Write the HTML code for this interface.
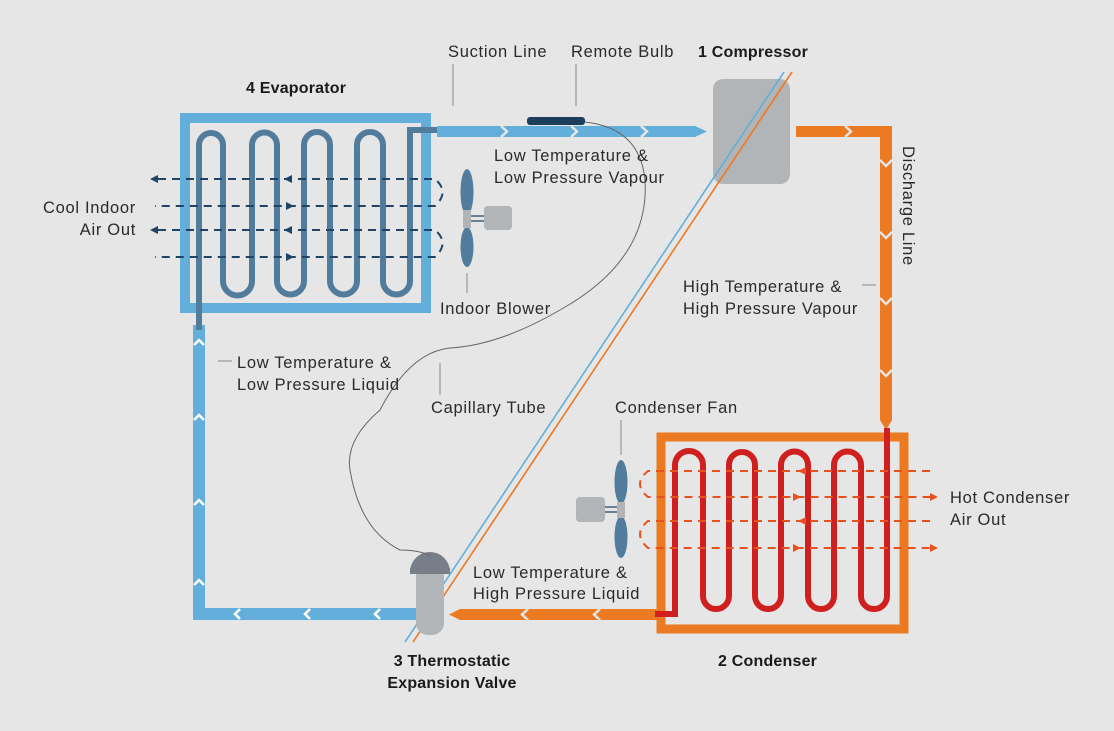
<!DOCTYPE html>
<html><head><meta charset="utf-8"><style>
html,body{margin:0;padding:0;background:#e6e6e6;}
svg{display:block;font-family:"Liberation Sans",sans-serif;}
text{font-size:16.5px;letter-spacing:0.7px;fill:#2a2a2a;}
.b{font-weight:bold;font-size:16px;letter-spacing:0.2px;fill:#1a1a1a;}
</style></head><body>
<svg width="1114" height="731" viewBox="0 0 1114 731" xmlns="http://www.w3.org/2000/svg">
<rect width="1114" height="731" fill="#e6e6e6"/>

<rect x="185" y="118" width="241" height="190" fill="none" stroke="#63aedb" stroke-width="10"/>
<path d="M199,325 L199,614 L420,614" fill="none" stroke="#63aedb" stroke-width="12"/>
<g fill="none" stroke="#fff" stroke-width="2.5">
<path d="M194,345 l5,-5 l5,5"/><path d="M194,420 l5,-5 l5,5"/><path d="M194,505 l5,-5 l5,5"/><path d="M194,585 l5,-5 l5,5"/>
<path d="M240,609 l-5,5 l5,5"/><path d="M310,609 l-5,5 l5,5"/><path d="M380,609 l-5,5 l5,5"/>
</g>
<path d="M199,330 L199,145 A12,12 0 0 1 223,145 L223,281 A14.5,14.5 0 0 0 252,281 L252,145 A12.5,12.5 0 0 1 277,145 L277,281 A13.5,13.5 0 0 0 304,281 L304,145 A13,13 0 0 1 330,145 L330,281 A13.5,13.5 0 0 0 357,281 L357,145 A13,13 0 0 1 383,145 L383,281 A13.5,13.5 0 0 0 410,281 L410,130 L437,130" fill="none" stroke="#527c9c" stroke-width="6"/>
<g fill="none" stroke="#1f4466" stroke-width="2" stroke-dasharray="8,6">
<path d="M158,179 L435,179 Q450,192 435,206 L155,206"/>
<path d="M158,230 L435,230 Q450,243 435,257 L155,257"/>
</g>
<g fill="#1f4466">
<path d="M150,179 l8,-4 v8z"/><path d="M150,230 l8,-4 v8z"/>
<path d="M284,179 l8,-4 v8z"/><path d="M284,230 l8,-4 v8z"/>
<path d="M294,206 l-8,-4 v8z"/><path d="M294,257 l-8,-4 v8z"/>
</g>
<ellipse cx="467" cy="192" rx="6.5" ry="23" fill="#527c9c"/>
<ellipse cx="467" cy="247" rx="6.5" ry="20" fill="#527c9c"/>
<rect x="463" y="210" width="8" height="18" fill="#b1b5b8"/>
<path d="M471,216 H485 M471,221 H485" stroke="#1f4466" stroke-width="1.2"/>
<rect x="484" y="206" width="28" height="24" rx="4" fill="#b1b5b8"/>
<line x1="467" y1="273" x2="467" y2="293" stroke="#999" stroke-width="1.2"/>

<path d="M437,126 H695 L707,131.5 L695,137 H437z" fill="#63aedb"/>
<g fill="none" stroke="#e6e6e6" stroke-width="2.5"><path d="M501,126 l6,5.5 l-6,5.5"/><path d="M571,126 l6,5.5 l-6,5.5"/><path d="M641,126 l6,5.5 l-6,5.5"/></g>
<rect x="527" y="117" width="58" height="8" rx="3" fill="#1d3f5c"/>
<line x1="453" y1="64" x2="453" y2="106" stroke="#999" stroke-width="1.2"/>
<line x1="576" y1="64" x2="576" y2="106" stroke="#999" stroke-width="1.2"/>

<rect x="713" y="79" width="77" height="105" rx="10" fill="#b1b5b8"/>
<path d="M796,126 H892 V420 L886,430 L880,420 V137 H796z" fill="#ec7a22"/>
<g fill="none" stroke="#e6e6e6" stroke-width="2.5"><path d="M845,126 l6,5.5 l-6,5.5"/><path d="M880,160 l6,6 l6,-6"/><path d="M880,232 l6,6 l6,-6"/><path d="M880,298 l6,6 l6,-6"/><path d="M880,370 l6,6 l6,-6"/></g>

<line x1="784" y1="72" x2="405" y2="642" stroke="#63aedb" stroke-width="1.6"/>
<line x1="792" y1="72" x2="413" y2="642" stroke="#ec7a22" stroke-width="1.6"/>

<rect x="661" y="437" width="243" height="192" fill="none" stroke="#ec7a22" stroke-width="9"/>
<path d="M660,609 H460 L449,614.5 L460,620 H660z" fill="#ec7a22"/>
<g fill="none" stroke="#e6e6e6" stroke-width="2.5"><path d="M528,609 l-6,5.5 l6,5.5"/><path d="M600,609 l-6,5.5 l6,5.5"/></g>
<path d="M655,614 L675,614 L675,465 A14,14 0 0 1 703,465 L703,596 A13,13 0 0 0 729,596 L729,465 A13,13 0 0 1 755,465 L755,596 A13,13 0 0 0 781,596 L781,465 A13.5,13.5 0 0 1 808,465 L808,596 A13,13 0 0 0 834,596 L834,465 A13.5,13.5 0 0 1 861,465 L861,596 A13,13 0 0 0 887,596 L887,428" fill="none" stroke="#d01f1f" stroke-width="6"/>
<g fill="none" stroke="#e8501e" stroke-width="2" stroke-dasharray="8,6">
<path d="M930,471 L648,471 Q632,484 648,497 L930,497"/>
<path d="M930,521 L648,521 Q632,534 648,548 L930,548"/>
</g>
<g fill="#e8501e">
<path d="M798,471 l8,-4 v8z"/><path d="M798,521 l8,-4 v8z"/>
<path d="M801,497 l-8,-4 v8z"/><path d="M801,548 l-8,-4 v8z"/>
<path d="M938,497 l-8,-4 v8z"/><path d="M938,548 l-8,-4 v8z"/>
</g>
<ellipse cx="621" cy="482" rx="6.5" ry="22" fill="#527c9c"/>
<ellipse cx="621" cy="537" rx="6.5" ry="21" fill="#527c9c"/>
<rect x="617" y="502" width="8" height="16" fill="#b1b5b8"/>
<path d="M604,507 H617 M604,512 H617" stroke="#1f4466" stroke-width="1.2"/>
<rect x="576" y="497" width="29" height="25" rx="4" fill="#b1b5b8"/>
<line x1="621" y1="420" x2="621" y2="455" stroke="#999" stroke-width="1.2"/>

<rect x="416" y="565" width="28" height="70" rx="12" fill="#b1b5b8"/>
<path d="M410,572 A20,20 0 0 1 450,572 Z" fill="#777e88"/>
<rect x="410" y="568" width="40" height="6" fill="#777e88"/>
<path d="M585,122 Q640,128 645,180 Q650,260 560,310 Q500,345 450,348 Q410,352 380,410 Q345,440 350,470 Q360,530 400,550 Q420,550 430,556" fill="none" stroke="#666" stroke-width="1"/>

<line x1="218" y1="361" x2="232" y2="361" stroke="#999" stroke-width="1.2"/>
<line x1="440" y1="363" x2="440" y2="395" stroke="#999" stroke-width="1.2"/>
<line x1="862" y1="285" x2="876" y2="285" stroke="#999" stroke-width="1.2"/>

<text x="448" y="57">Suction Line</text>
<text x="571" y="57">Remote Bulb</text>
<text x="698" y="57" class="b">1 Compressor</text>
<text x="246" y="93" class="b">4 Evaporator</text>
<text x="494" y="161">Low Temperature &amp;</text>
<text x="494" y="183">Low Pressure Vapour</text>
<text x="136" y="213" text-anchor="end">Cool Indoor</text>
<text x="136" y="235" text-anchor="end">Air Out</text>
<text x="440" y="314">Indoor Blower</text>
<text x="237" y="368">Low Temperature &amp;</text>
<text x="237" y="390">Low Pressure Liquid</text>
<text x="431" y="413">Capillary Tube</text>
<text x="683" y="292">High Temperature &amp;</text>
<text x="683" y="314">High Pressure Vapour</text>
<text x="615" y="413">Condenser Fan</text>
<text x="950" y="503">Hot Condenser</text>
<text x="950" y="525">Air Out</text>
<text x="473" y="578">Low Temperature &amp;</text>
<text x="473" y="599">High Pressure Liquid</text>
<text x="718" y="666" class="b">2 Condenser</text>
<text x="452" y="666" class="b" text-anchor="middle">3 Thermostatic</text>
<text x="452" y="688" class="b" text-anchor="middle">Expansion Valve</text>
<text x="0" y="0" transform="translate(903,146) rotate(90)">Discharge Line</text>
</svg>
</body></html>
